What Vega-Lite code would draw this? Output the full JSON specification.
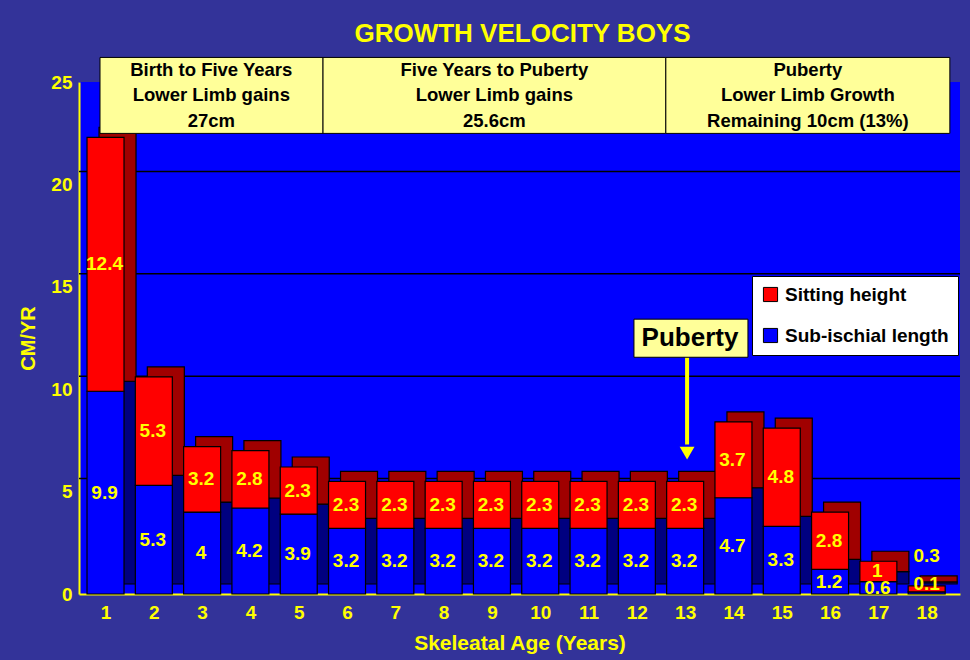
{
  "$schema": "https://vega.github.io/schema/vega-lite/v6.json",
  "width": 881,
  "height": 512,
  "autosize": {"type": "none"},
  "padding": {"left": 79, "top": 82, "right": 10, "bottom": 66},
  "background": "#333399",
  "config": {
    "view": {"fill": "#0000FF", "stroke": null},
    "font": "Liberation Sans",
    "scale": {"continuousPadding": 0},
    "axisX": {
      "titleColor": "#FFFF00", "titleFontSize": 21, "titleFontWeight": "bold", "titlePadding": 10,
      "labelColor": "#FFFF00", "labelFontSize": 19, "labelFontWeight": "bold", "labelPadding": 9,
      "ticks": false, "grid": false,
      "domainColor": "#FFFF00", "domainWidth": 2
    },
    "axisY": {
      "titleColor": "#FFFF00", "titleFontSize": 20, "titleFontWeight": "bold", "titlePadding": 12,
      "labelColor": "#FFFF00", "labelFontSize": 19, "labelFontWeight": "bold", "labelPadding": 7,
      "ticks": false, "grid": false,
      "domainColor": "#FFFF00", "domainWidth": 2
    }
  },
  "title": {
    "text": "GROWTH VELOCITY BOYS",
    "color": "#FFFF00",
    "fontSize": 26,
    "fontWeight": "bold",
    "font": "Liberation Sans",
    "anchor": "middle",
    "offset": 10,
    "dx": 3
  },
  "datasets": {
    "bars": [
      {"age": 1, "part": "Sub-ischial length", "value": 9.9},
      {"age": 1, "part": "Sitting height", "value": 12.4},
      {"age": 2, "part": "Sub-ischial length", "value": 5.3},
      {"age": 2, "part": "Sitting height", "value": 5.3},
      {"age": 3, "part": "Sub-ischial length", "value": 4},
      {"age": 3, "part": "Sitting height", "value": 3.2},
      {"age": 4, "part": "Sub-ischial length", "value": 4.2},
      {"age": 4, "part": "Sitting height", "value": 2.8},
      {"age": 5, "part": "Sub-ischial length", "value": 3.9},
      {"age": 5, "part": "Sitting height", "value": 2.3},
      {"age": 6, "part": "Sub-ischial length", "value": 3.2},
      {"age": 6, "part": "Sitting height", "value": 2.3},
      {"age": 7, "part": "Sub-ischial length", "value": 3.2},
      {"age": 7, "part": "Sitting height", "value": 2.3},
      {"age": 8, "part": "Sub-ischial length", "value": 3.2},
      {"age": 8, "part": "Sitting height", "value": 2.3},
      {"age": 9, "part": "Sub-ischial length", "value": 3.2},
      {"age": 9, "part": "Sitting height", "value": 2.3},
      {"age": 10, "part": "Sub-ischial length", "value": 3.2},
      {"age": 10, "part": "Sitting height", "value": 2.3},
      {"age": 11, "part": "Sub-ischial length", "value": 3.2},
      {"age": 11, "part": "Sitting height", "value": 2.3},
      {"age": 12, "part": "Sub-ischial length", "value": 3.2},
      {"age": 12, "part": "Sitting height", "value": 2.3},
      {"age": 13, "part": "Sub-ischial length", "value": 3.2},
      {"age": 13, "part": "Sitting height", "value": 2.3},
      {"age": 14, "part": "Sub-ischial length", "value": 4.7},
      {"age": 14, "part": "Sitting height", "value": 3.7},
      {"age": 15, "part": "Sub-ischial length", "value": 3.3},
      {"age": 15, "part": "Sitting height", "value": 4.8},
      {"age": 16, "part": "Sub-ischial length", "value": 1.2},
      {"age": 16, "part": "Sitting height", "value": 2.8},
      {"age": 17, "part": "Sub-ischial length", "value": 0.6},
      {"age": 17, "part": "Sitting height", "value": 1},
      {"age": 18, "part": "Sub-ischial length", "value": 0.1},
      {"age": 18, "part": "Sitting height", "value": 0.3}
    ],
    "grid": [{"v": 5}, {"v": 10}, {"v": 15}, {"v": 20}],
    "headers": [
      {"x0": 0.886, "x1": 5.503, "y0": 22.49, "y1": 26.2, "xc": 3.19, "yc": 25.61, "label": "Birth to Five Years\nLower Limb gains\n27cm"},
      {"x0": 5.503, "x1": 12.6, "y0": 22.49, "y1": 26.2, "xc": 9.05, "yc": 25.61, "label": "Five Years to Puberty\nLower Limb gains\n25.6cm"},
      {"x0": 12.6, "x1": 18.48, "y0": 22.49, "y1": 26.2, "xc": 15.54, "yc": 25.61, "label": "Puberty\nLower Limb Growth\nRemaining 10cm (13%)"}
    ],
    "callout": [
      {"x0": 11.94, "x1": 14.3, "y0": 11.56, "y1": 13.42, "xc": 13.1, "yc": 12.49, "label": "Puberty"}
    ],
    "arrow": [
      {"x": 13.04, "y0": 11.56, "y1": 7.3, "tip": 6.88}
    ]
  },
  "layer": [
    {
      "data": {"name": "grid"},
      "mark": {"type": "rule", "color": "black", "strokeWidth": 1.5, "yOffset": -13},
      "encoding": {
        "y": {"field": "v", "type": "quantitative", "scale": {"domain": [0, 25], "nice": false, "padding": 0}, "title": "CM/YR"}
      }
    },
    {
      "data": {"name": "bars"},
      "mark": {"type": "bar", "width": 37, "xOffset": 12, "yOffset": -10, "stroke": "black", "strokeWidth": 1.2},
      "encoding": {
        "x": {"field": "age", "type": "quantitative", "scale": {"domain": [0.451, 18.69], "nice": false, "zero": false, "padding": 0}, "title": "Skeleatal Age (Years)"},
        "y": {"field": "value", "type": "quantitative", "stack": "zero", "scale": {"domain": [0, 25], "nice": false, "padding": 0}, "title": "CM/YR"},
        "detail": {"field": "part"},
        "order": {"field": "part", "sort": "descending"},
        "fill": {"condition": {"test": "datum.part === 'Sitting height'", "value": "#A00000"}, "value": "#000080"}
      }
    },
    {
      "data": {"name": "bars"},
      "mark": {"type": "bar", "width": 37, "stroke": "black", "strokeWidth": 1.2},
      "encoding": {
        "x": {
          "field": "age", "type": "quantitative",
          "scale": {"domain": [0.451, 18.69], "nice": false, "zero": false, "padding": 0},
          "title": "Skeleatal Age (Years)",
          "axis": {"values": [1,2,3,4,5,6,7,8,9,10,11,12,13,14,15,16,17,18], "format": "d"}
        },
        "y": {
          "field": "value", "type": "quantitative", "stack": "zero",
          "scale": {"domain": [0, 25], "nice": false, "padding": 0},
          "title": "CM/YR",
          "axis": {"values": [0, 5, 10, 15, 20, 25]}
        },
        "order": {"field": "part", "sort": "descending"},
        "color": {
          "field": "part", "type": "nominal",
          "scale": {"domain": ["Sitting height", "Sub-ischial length"], "range": ["#FF0000", "#0000FF"]},
          "legend": {
            "title": null,
            "orient": "none",
            "legendX": 673,
            "legendY": 194,
            "fillColor": "white",
            "strokeColor": "black",
            "padding": 9,
            "symbolType": "square",
            "symbolSize": 200,
            "symbolStrokeColor": "black",
            "symbolStrokeWidth": 1,
            "symbolOpacity": 1,
            "labelFontSize": 19,
            "labelFontWeight": "bold",
            "labelColor": "black",
            "labelOffset": 5,
            "rowPadding": 21,
            "labelLimit": 300
          }
        }
      }
    },
    {
      "data": {"name": "bars"},
      "transform": [{"filter": "datum.age !== 18"}],
      "mark": {"type": "text", "color": "#FFFF00", "fontSize": 19, "fontWeight": "bold", "baseline": "middle", "dx": -1},
      "encoding": {
        "x": {"field": "age", "type": "quantitative", "scale": {"domain": [0.451, 18.69], "nice": false, "zero": false, "padding": 0}, "title": "Skeleatal Age (Years)"},
        "y": {"field": "value", "type": "quantitative", "stack": "zero", "bandPosition": 0.5, "scale": {"domain": [0, 25], "nice": false, "padding": 0}, "title": "CM/YR"},
        "detail": {"field": "part"},
        "order": {"field": "part", "sort": "descending"},
        "text": {"field": "value", "type": "quantitative"}
      }
    },
    {
      "data": {"name": "bars"},
      "transform": [{"filter": "datum.age === 18 && datum.part === 'Sub-ischial length'"}],
      "mark": {"type": "text", "color": "#FFFF00", "fontSize": 19, "fontWeight": "bold", "baseline": "middle", "dy": -8},
      "encoding": {
        "x": {"field": "age", "type": "quantitative", "scale": {"domain": [0.451, 18.69], "nice": false, "zero": false, "padding": 0}, "title": "Skeleatal Age (Years)"},
        "y": {"field": "value", "type": "quantitative", "scale": {"domain": [0, 25], "nice": false, "padding": 0}, "title": "CM/YR"},
        "text": {"field": "value", "type": "quantitative"}
      }
    },
    {
      "data": {"name": "bars"},
      "transform": [{"filter": "datum.age === 18 && datum.part === 'Sitting height'"}],
      "mark": {"type": "text", "color": "#FFFF00", "fontSize": 19, "fontWeight": "bold", "baseline": "middle", "dy": -32},
      "encoding": {
        "x": {"field": "age", "type": "quantitative", "scale": {"domain": [0.451, 18.69], "nice": false, "zero": false, "padding": 0}, "title": "Skeleatal Age (Years)"},
        "y": {"field": "value", "type": "quantitative", "scale": {"domain": [0, 25], "nice": false, "padding": 0}, "title": "CM/YR"},
        "text": {"field": "value", "type": "quantitative"}
      }
    },
    {
      "data": {"name": "headers"},
      "mark": {"type": "rect", "fill": "#FFFF99", "stroke": "black", "strokeWidth": 1},
      "encoding": {
        "x": {"field": "x0", "type": "quantitative", "scale": {"domain": [0.451, 18.69], "nice": false, "zero": false, "padding": 0}, "title": "Skeleatal Age (Years)"},
        "x2": {"field": "x1"},
        "y": {"field": "y0", "type": "quantitative", "scale": {"domain": [0, 25], "nice": false, "padding": 0}, "title": "CM/YR"},
        "y2": {"field": "y1"}
      }
    },
    {
      "data": {"name": "headers"},
      "mark": {"type": "text", "color": "black", "fontSize": 18.5, "fontWeight": "bold", "lineBreak": "\n", "lineHeight": 25.5, "baseline": "middle", "align": "center"},
      "encoding": {
        "x": {"field": "xc", "type": "quantitative", "scale": {"domain": [0.451, 18.69], "nice": false, "zero": false, "padding": 0}, "title": "Skeleatal Age (Years)"},
        "y": {"field": "yc", "type": "quantitative", "scale": {"domain": [0, 25], "nice": false, "padding": 0}, "title": "CM/YR"},
        "text": {"field": "label"}
      }
    },
    {
      "data": {"name": "arrow"},
      "mark": {"type": "rule", "color": "#FFFF00", "strokeWidth": 4},
      "encoding": {
        "x": {"field": "x", "type": "quantitative", "scale": {"domain": [0.451, 18.69], "nice": false, "zero": false, "padding": 0}, "title": "Skeleatal Age (Years)"},
        "y": {"field": "y0", "type": "quantitative", "scale": {"domain": [0, 25], "nice": false, "padding": 0}, "title": "CM/YR"},
        "y2": {"field": "y1"}
      }
    },
    {
      "data": {"name": "arrow"},
      "mark": {"type": "point", "shape": "triangle-down", "filled": true, "color": "#FFFF00", "opacity": 1, "size": 220},
      "encoding": {
        "x": {"field": "x", "type": "quantitative", "scale": {"domain": [0.451, 18.69], "nice": false, "zero": false, "padding": 0}, "title": "Skeleatal Age (Years)"},
        "y": {"field": "tip", "type": "quantitative", "scale": {"domain": [0, 25], "nice": false, "padding": 0}, "title": "CM/YR"}
      }
    },
    {
      "data": {"name": "callout"},
      "mark": {"type": "rect", "fill": "#FFFF99", "stroke": "black", "strokeWidth": 1},
      "encoding": {
        "x": {"field": "x0", "type": "quantitative", "scale": {"domain": [0.451, 18.69], "nice": false, "zero": false, "padding": 0}, "title": "Skeleatal Age (Years)"},
        "x2": {"field": "x1"},
        "y": {"field": "y0", "type": "quantitative", "scale": {"domain": [0, 25], "nice": false, "padding": 0}, "title": "CM/YR"},
        "y2": {"field": "y1"}
      }
    },
    {
      "data": {"name": "callout"},
      "mark": {"type": "text", "color": "black", "fontSize": 26, "fontWeight": "bold", "baseline": "middle", "align": "center"},
      "encoding": {
        "x": {"field": "xc", "type": "quantitative", "scale": {"domain": [0.451, 18.69], "nice": false, "zero": false, "padding": 0}, "title": "Skeleatal Age (Years)"},
        "y": {"field": "yc", "type": "quantitative", "scale": {"domain": [0, 25], "nice": false, "padding": 0}, "title": "CM/YR"},
        "text": {"field": "label"}
      }
    }
  ]
}
